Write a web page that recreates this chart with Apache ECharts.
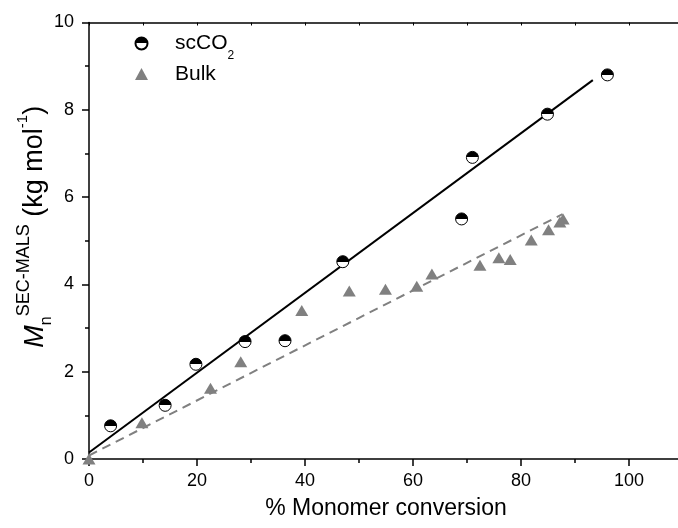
<!DOCTYPE html>
<html><head><meta charset="utf-8">
<script src="https://cdn.jsdelivr.net/npm/echarts@6/dist/echarts.min.js"></script>
<style>html,body{margin:0;padding:0;background:#fff}#c{width:678px;height:528px}</style>
</head><body><div id="c"></div>
<script>
// scCO2 data
const scX = [4.0, 14.1, 19.8, 28.9, 36.3, 47.0, 69.0, 71.0, 84.9, 96.0];
const scY = [0.76, 1.23, 2.17, 2.69, 2.71, 4.52, 5.50, 6.91, 7.90, 8.80];
// Bulk data
const bulkX = [0, 9.8, 22.5, 28.1, 39.4, 48.2, 54.9, 60.7, 63.5, 72.4, 75.9, 78.0, 81.9, 85.1, 87.2, 87.8];
const bulkY = [0, 0.83, 1.62, 2.23, 3.40, 3.85, 3.89, 3.96, 4.24, 4.44, 4.61, 4.57, 5.02, 5.25, 5.43, 5.50];
// linear fits
const fitScX = [0, 93.3];
const fitScY = [0.15, 8.68];
const fitBulkX = [0, 87.7];
const fitBulkY = [0.08, 5.61];
// axes
const xTicks = [0, 20, 40, 60, 80, 100];
const yTicks = [0, 2, 4, 6, 8, 10];
const xMax = 110;

const F = 'Liberation Sans, Arial, sans-serif';
const zip = (a, b) => a.map((v, i) => [v, b[i]]);
const axCol = '#000';
const lineSt = {color: axCol, width: 1.5};

const chart = echarts.init(document.getElementById('c'), null, {renderer: 'canvas'});
chart.setOption({
  animation: false,
  backgroundColor: '#fff',
  grid: {left: 89, top: 22.5, width: 594, height: 436.5, containLabel: false, outerBoundsMode: 'none'},
  legend: {
    data: ['scCO2', 'Bulk'],
    orient: 'vertical',
    left: 129.5, top: 28,
    itemWidth: 13, itemHeight: 12, itemGap: 2,
    formatter: n => n === 'scCO2' ? '{t|scCO}{s|2}' : '{t|Bulk}',
    textStyle: {
      fontFamily: F, fontSize: 21, color: '#000',
      rich: {
        t: {fontFamily: F, fontSize: 21, color: '#000', lineHeight: 36, padding: [0, 0, 0, 22]},
        s: {fontFamily: F, fontSize: 12, color: '#000', lineHeight: 12, verticalAlign: 'bottom'}
      }
    }
  },
  xAxis: [
    {type: 'value', position: 'bottom', min: xTicks[0], max: xMax, interval: xTicks[1] - xTicks[0],
     axisLine: {show: true, onZero: false, lineStyle: lineSt},
     axisTick: {show: true, inside: false, length: 7, lineStyle: lineSt},
     axisLabel: {fontFamily: F, fontSize: 18, color: '#000', margin: 13, showMaxLabel: false},
     splitLine: {show: false},
     name: '% Monomer conversion', nameLocation: 'middle', nameGap: 38, nameMoveOverlap: false,
     nameTextStyle: {fontFamily: F, fontSize: 23, color: '#000'}},
    {type: 'value', position: 'bottom', min: xTicks[0], max: xMax, interval: 10,
     axisLine: {show: false, onZero: false}, axisTick: {show: true, length: 4, lineStyle: lineSt},
     axisLabel: {show: false}, splitLine: {show: false}},
    {type: 'value', position: 'top', min: xTicks[0], max: xMax, interval: 10,
     axisLine: {show: true, onZero: false, lineStyle: lineSt}, axisTick: {show: true, inside: true, length: 3, lineStyle: {color: '#000', width: 1}},
     axisLabel: {show: false}, splitLine: {show: false}}
  ],
  yAxis: [
    {type: 'value', position: 'left', min: yTicks[0], max: yTicks[yTicks.length - 1], interval: yTicks[1] - yTicks[0],
     axisLine: {show: true, onZero: false, lineStyle: lineSt},
     axisTick: {show: true, inside: false, length: 7, lineStyle: lineSt},
     axisLabel: {fontFamily: F, fontSize: 18, color: '#000', margin: 15},
     splitLine: {show: false},
     name: '{m|M}{n|n}{p|SEC-MALS}{u| (kg mol}{q|-1}{u|)}',
     nameLocation: 'middle', nameGap: 34, nameMoveOverlap: false,
     nameTextStyle: {
       fontFamily: F, color: '#000',
       rich: {
         m: {fontFamily: F, fontSize: 27, fontStyle: 'italic', lineHeight: 40, color: '#000', padding: [0, 0, 0, 28]},
         n: {fontFamily: F, fontSize: 16, lineHeight: 16, verticalAlign: 'bottom', color: '#000'},
         p: {fontFamily: F, fontSize: 18, lineHeight: 18, verticalAlign: 'top', color: '#000'},
         u: {fontFamily: F, fontSize: 27, lineHeight: 40, color: '#000'},
         q: {fontFamily: F, fontSize: 15, lineHeight: 15, verticalAlign: 'top', color: '#000'}
       }
     }},
    {type: 'value', position: 'left', min: yTicks[0], max: yTicks[yTicks.length - 1], interval: 1,
     axisLine: {show: false, onZero: false}, axisTick: {show: true, length: 4, lineStyle: lineSt},
     axisLabel: {show: false}, splitLine: {show: false}}
  ],
  series: [
    {name: 'fit scCO2', type: 'line', xAxisIndex: 0, yAxisIndex: 0, data: zip(fitScX, fitScY),
     symbol: 'none', lineStyle: {color: '#000', width: 2}, z: 2, silent: true},
    {name: 'fit Bulk', type: 'line', xAxisIndex: 0, yAxisIndex: 0, data: zip(fitBulkX, fitBulkY),
     symbol: 'none', lineStyle: {color: '#808080', width: 2, type: [9, 6]}, z: 2, silent: true},
    {name: 'Bulk', type: 'scatter', xAxisIndex: 0, yAxisIndex: 0, data: zip(bulkX, bulkY),
     symbol: 'triangle', symbolSize: [13, 11], itemStyle: {color: '#808080', opacity: 1}, z: 3},
    {name: 'scCO2', type: 'scatter', xAxisIndex: 0, yAxisIndex: 0, data: zip(scX, scY),
     symbol: 'circle', symbolSize: 12,
     itemStyle: {
       color: {type: 'linear', x: 0, y: 0, x2: 0, y2: 1, colorStops: [
         {offset: 0, color: '#000'}, {offset: 0.5, color: '#000'},
         {offset: 0.5, color: '#fff'}, {offset: 1, color: '#fff'}]},
       borderColor: '#000', borderWidth: 1, opacity: 1
     }, z: 4}
  ]
});
</script></body></html>
